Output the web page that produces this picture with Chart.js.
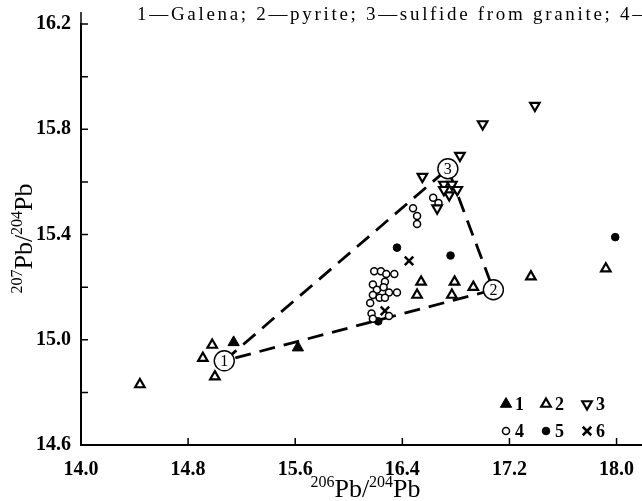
<!DOCTYPE html>
<html>
<head>
<meta charset="utf-8">
<script src="https://cdn.jsdelivr.net/npm/chart.js@4.4.1/dist/chart.umd.min.js"></script>
<style>
  html, body { margin: 0; padding: 0; background: #fff; }
  canvas { display: block; }
</style>
</head>
<body>
<canvas id="chart-pb" width="642" height="501"></canvas>
<script>
// ticks
const xTicks = [14.0, 14.8, 15.6, 16.4, 17.2, 18.0];
const yTicks = [14.6, 14.8, 15.0, 15.2, 15.4, 15.6, 15.8, 16.0, 16.2];
const yLabeled = [14.6, 15.0, 15.4, 15.8, 16.2];

// 1 - galena
const galenaX = [15.14, 15.62];
const galenaY = [14.99, 14.97];
// 2 - pyrite
const pyriteX = [14.98, 14.91, 15.00, 14.44, 16.54, 16.79, 16.93, 16.51, 16.77, 17.36, 17.92];
const pyriteY = [14.98, 14.93, 14.86, 14.83, 15.22, 15.22, 15.20, 15.17, 15.17, 15.24, 15.27];
// 3 - sulfide from granite
const graniteX = [17.39, 17.00, 16.83, 16.55, 16.71, 16.77, 16.81, 16.75, 16.71, 16.66];
const graniteY = [15.89, 15.82, 15.70, 15.62, 15.59, 15.59, 15.57, 15.55, 15.57, 15.50];
// 4
const s4X = [16.63, 16.67, 16.48, 16.51, 16.51, 16.19, 16.24, 16.28, 16.34, 16.18, 16.27,
             16.21, 16.26, 16.30, 16.36, 16.18, 16.23, 16.27, 16.16, 16.17, 16.18, 16.30];
const s4Y = [15.54, 15.52, 15.50, 15.47, 15.44, 15.26, 15.26, 15.25, 15.25, 15.21, 15.22,
             15.19, 15.20, 15.18, 15.18, 15.17, 15.16, 15.16, 15.14, 15.10, 15.08, 15.09];
// 5
const s5X = [16.36, 16.76, 16.22, 17.99];
const s5Y = [15.35, 15.32, 15.07, 15.39];
// 6
const s6X = [16.45, 16.27];
const s6Y = [15.30, 15.11];

// end members (1), (2), (3) and the dashed triangle between them
const endX = [15.07, 17.08, 16.74];
const endY = [14.92, 15.19, 15.65];
const endNames = ["1", "2", "3"];
const mixPath = [0, 2, 1, 0];

const legendLabels = ["1", "2", "3", "4", "5", "6"];
const captionText = "1\u2014Galena; 2\u2014pyrite; 3\u2014sulfide from granite; 4\u2014";

const pts = (xs, ys) => xs.map((v, i) => ({ x: v, y: ys[i] }));

const SERIF = "'Liberation Serif', 'DejaVu Serif', serif";

// draws "206Pb/204Pb" style text with raised numbers
function drawIsoTitle(ctx, parts, cx, cy, angle) {
  const big = "26px " + SERIF, small = "16px " + SERIF;
  let total = 0;
  parts.forEach(p => { ctx.font = p[1] ? small : big; total += ctx.measureText(p[0]).width; });
  ctx.save();
  ctx.translate(cx, cy);
  ctx.rotate(angle);
  ctx.textBaseline = "alphabetic";
  ctx.textAlign = "left";
  let x = -total / 2;
  parts.forEach(p => {
    ctx.font = p[1] ? small : big;
    ctx.fillText(p[0], x, p[1] ? -2 : 8);
    x += ctx.measureText(p[0]).width;
  });
  ctx.restore();
}

const decor = {
  id: "decor",
  afterDatasetsDraw(chart) {
    const { ctx, scales: { x, y } } = chart;
    ctx.save();
    ctx.fillStyle = "#000";
    ctx.font = "16px " + SERIF;
    ctx.textAlign = "center";
    ctx.textBaseline = "middle";
    endNames.forEach((n, i) => {
      ctx.fillText(n, x.getPixelForValue(endX[i]), y.getPixelForValue(endY[i]) + 1);
    });
    ctx.restore();
  },
  afterDraw(chart) {
    const { ctx, chartArea: a, scales: { x, y } } = chart;
    ctx.save();
    ctx.strokeStyle = "#000";
    ctx.fillStyle = "#000";
    ctx.lineWidth = 1.5;
    // inward tick marks
    ctx.beginPath();
    xTicks.forEach(v => {
      const px = x.getPixelForValue(v);
      ctx.moveTo(px, a.bottom); ctx.lineTo(px, a.bottom - 7);
    });
    yTicks.forEach(v => {
      const py = y.getPixelForValue(v);
      ctx.moveTo(a.left, py); ctx.lineTo(a.left + 7, py);
    });
    // axis line running a little above the top tick
    ctx.moveTo(a.left, a.top); ctx.lineTo(a.left, a.top - 12);
    ctx.stroke();

    // caption line at the top, spread to the printed width
    ctx.font = "19px " + SERIF;
    ctx.textAlign = "left";
    ctx.textBaseline = "alphabetic";
    const upTo4 = captionText.slice(0, captionText.length - 1);
    const extra = (495 - ctx.measureText(upTo4).width) / upTo4.length;
    if (extra > 0) ctx.letterSpacing = extra.toFixed(2) + "px";
    ctx.fillText(captionText, 137, 20);
    ctx.letterSpacing = "0px";

    // axis titles
    drawIsoTitle(ctx, [["206", true], ["Pb", false], ["/", false], ["204", true], ["Pb", false]],
      (a.left + a.right) / 2 + 4, 489, 0);
    drawIsoTitle(ctx, [["207", true], ["Pb", false], ["/", false], ["204", true], ["Pb", false]],
      24, (a.top + a.bottom) / 2 + 4, -Math.PI / 2);

    // legend, 3 per row
    const colX = [a.right - 136, a.right - 96, a.right - 55];
    const rowY = [a.bottom - 41, a.bottom - 14];
    legendLabels.forEach((lab, i) => {
      const ds = chart.data.datasets[i];
      const mx = colX[i % 3], my = rowY[Math.floor(i / 3)];
      ctx.save();
      ctx.fillStyle = ds.backgroundColor;
      ctx.strokeStyle = ds.borderColor;
      ctx.lineWidth = ds.borderWidth;
      Chart.helpers.drawPoint(ctx, {
        pointStyle: ds.pointStyle, rotation: ds.rotation || 0,
        radius: ds.pointRadius, borderWidth: ds.borderWidth
      }, mx, my);
      ctx.restore();
      ctx.font = "bold 18px " + SERIF;
      ctx.textBaseline = "middle";
      ctx.fillText(lab, mx + 9, my + 1);
    });
    ctx.restore();
  }
};

const markerBase = { borderColor: "#000", order: 1 };

new Chart(document.getElementById("chart-pb"), {
  type: "scatter",
  data: {
    datasets: [
      { ...markerBase, label: "1", data: pts(galenaX, galenaY), pointStyle: "triangle",
        backgroundColor: "#000", borderWidth: 1, pointRadius: 6.5 },
      { ...markerBase, label: "2", data: pts(pyriteX, pyriteY), pointStyle: "triangle",
        backgroundColor: "#fff", borderWidth: 2.2, pointRadius: 5.5 },
      { ...markerBase, label: "3", data: pts(graniteX, graniteY), pointStyle: "triangle", rotation: 180,
        backgroundColor: "#fff", borderWidth: 2.2, pointRadius: 5.5 },
      { ...markerBase, label: "4", data: pts(s4X, s4Y), pointStyle: "circle",
        backgroundColor: "#fff", borderWidth: 1.5, pointRadius: 3.5 },
      { ...markerBase, label: "5", data: pts(s5X, s5Y), pointStyle: "circle",
        backgroundColor: "#000", borderWidth: 1, pointRadius: 3.8 },
      { ...markerBase, label: "6", data: pts(s6X, s6Y), pointStyle: "crossRot",
        backgroundColor: "#000", borderWidth: 2.5, pointRadius: 6 },
      { label: "mix", data: mixPath.map(i => ({ x: endX[i], y: endY[i] })), showLine: true,
        borderColor: "#000", borderWidth: 2.8, borderDash: [16, 9], pointRadius: 0, order: 2 },
      { label: "end", data: pts(endX, endY), pointStyle: "circle", pointRadius: 10,
        backgroundColor: "#fff", borderColor: "#000", borderWidth: 1.4, order: 0 }
    ]
  },
  options: {
    responsive: false,
    animation: false,
    devicePixelRatio: 1,
    layout: { autoPadding: false, padding: { top: 24, right: 0, left: 0, bottom: 0 } },
    plugins: { legend: { display: false }, tooltip: { enabled: false } },
    scales: {
      x: {
        type: "linear", min: 14.0, max: 18.19,
        afterBuildTicks: s => { s.ticks = xTicks.map(v => ({ value: v })); },
        afterFit: s => { s.height = 56; s.paddingLeft = 0; s.paddingRight = 0; },
        grid: { display: false },
        border: { display: true, color: "#000", width: 2 },
        ticks: { color: "#000", padding: 5, maxRotation: 0,
          font: { family: SERIF, size: 20, weight: "bold" },
          callback: v => Number(v).toFixed(1) }
      },
      y: {
        type: "linear", min: 14.6, max: 16.2,
        afterBuildTicks: s => { s.ticks = yTicks.map(v => ({ value: v })); },
        afterFit: s => { s.width = 81; s.paddingTop = 0; s.paddingBottom = 0; },
        grid: { display: false },
        border: { display: true, color: "#000", width: 2 },
        ticks: { color: "#000", padding: 2,
          font: { family: SERIF, size: 20, weight: "bold" },
          callback: v => yLabeled.includes(Math.round(v * 10) / 10) ? Number(v).toFixed(1) : "" }
      }
    }
  },
  plugins: [decor]
});
</script>
</body>
</html>
